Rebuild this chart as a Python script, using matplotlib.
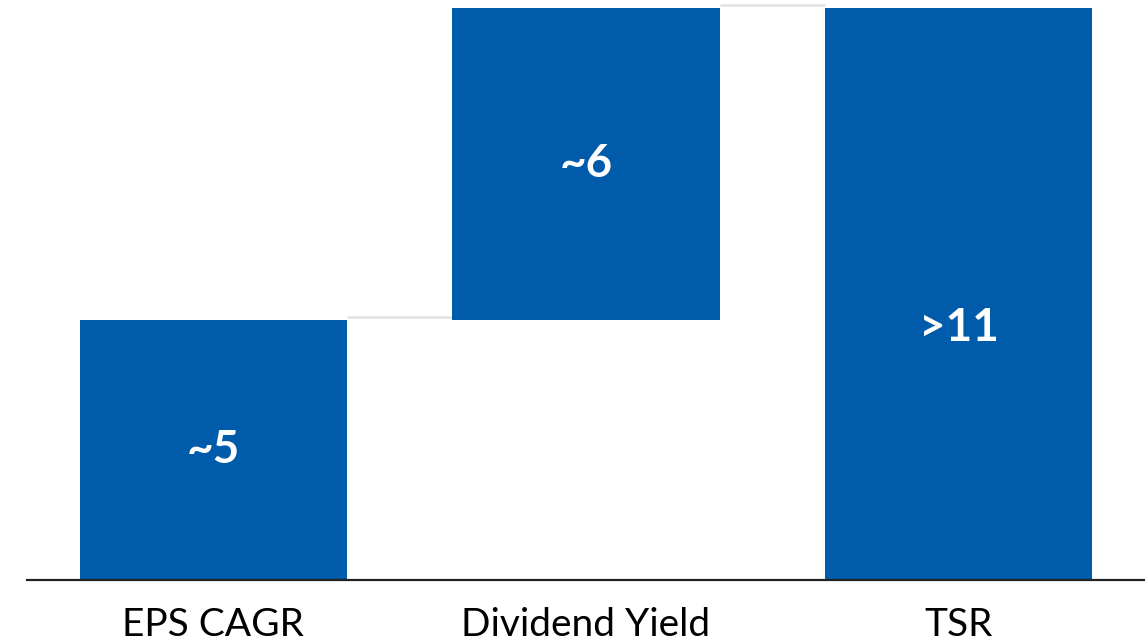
import matplotlib
matplotlib.use("Agg")
import matplotlib.pyplot as plt
from matplotlib.transforms import blended_transform_factory

# Waterfall components (%)
categories = ["EPS CAGR", "Dividend Yield", "TSR"]
values = [5, 6, 11]
value_labels = ["~5", "~6", ">11"]
is_total = [False, False, True]

BLUE = "#005BAA"
CONNECTOR = "#E4E4E4"
FONT = ["Lato", "DejaVu Sans"]

W, H = 1145, 643
fig = plt.figure(figsize=(W / 100, H / 100), dpi=100)
ax = fig.add_axes([27 / W, (H - 580) / H, (W - 27) / W, 572 / H])

bar_width = 0.717
bottoms = []
running = 0
for v, tot in zip(values, is_total):
    if tot:
        bottoms.append(0)
        running = v
    else:
        bottoms.append(running)
        running += v

x = list(range(len(categories)))
ax.bar(x, values, bottom=bottoms, width=bar_width, color=BLUE, zorder=2)

# connector lines between consecutive bars
for i in range(len(categories) - 1):
    level = bottoms[i] + values[i]
    ax.plot([x[i] + bar_width / 2, x[i + 1] - bar_width / 2], [level + 0.05, level + 0.05],
            color=CONNECTOR, lw=2, zorder=1, solid_capstyle="butt", clip_on=False)

# value labels inside bars
for i, (v, b, lab) in enumerate(zip(values, bottoms, value_labels)):
    y = b + v / 2 if not is_total[i] else 4.85
    ax.text(x[i], y, lab, ha="center", va="center", color="white",
            fontsize=33, fontweight="bold", family=FONT)

# category labels below the axis
trans = blended_transform_factory(ax.transData, fig.transFigure)
for xi, cat in zip(x, categories):
    ax.text(xi, 7 / H, cat, ha="center", va="baseline", transform=trans,
            fontsize=28, color="black", family=FONT, clip_on=False)

ax.set_xlim(-0.5, 2.5)
ax.set_ylim(0, 11)
for s in ["top", "right", "left"]:
    ax.spines[s].set_visible(False)
ax.spines["bottom"].set_color("#222222")
ax.spines["bottom"].set_linewidth(1.6)
ax.spines["bottom"].set_zorder(3)
ax.set_xticks([])
ax.set_yticks([])
ax.patch.set_visible(False)

fig.savefig("out.png", dpi=100)
